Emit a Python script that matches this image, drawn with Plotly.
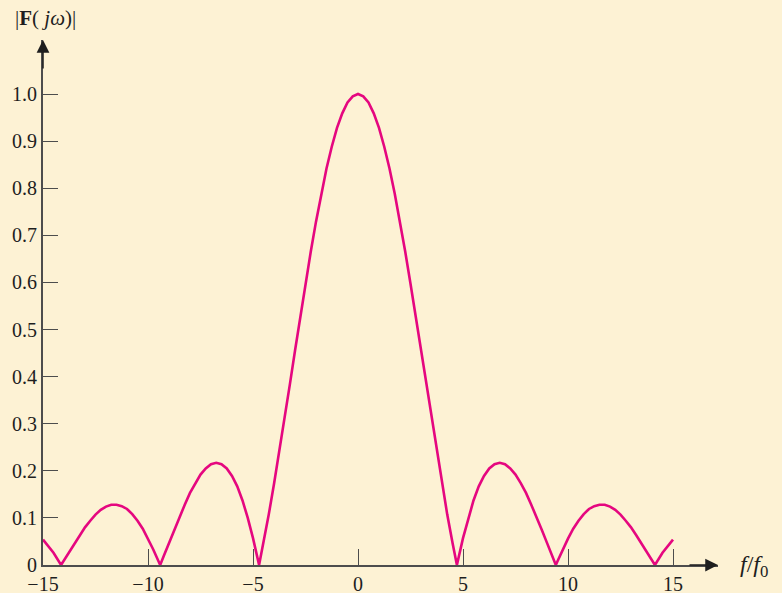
import plotly.graph_objects as go

# values (|F(jw)| vs f/f0), right half; left half is its mirror
f_pos = [0, 0.25, 0.5, 0.75, 1, 1.25, 1.5, 1.75, 2, 2.25, 2.5, 2.75, 3, 3.25, 3.5, 3.75, 4, 4.25,
         4.5, 4.71, 5, 5.25, 5.5, 5.75, 6, 6.25, 6.5, 6.75, 7, 7.25, 7.5, 7.75, 8, 8.25, 8.5, 8.75,
         9, 9.25, 9.42, 9.5, 9.75, 10, 10.25, 10.5, 10.75, 11, 11.25, 11.5, 11.75, 12, 12.25, 12.5,
         12.75, 13, 13.25, 13.5, 13.75, 14, 14.14, 14.5, 14.75, 15]
mag_pos = [1.0, 0.995, 0.982, 0.959, 0.928, 0.888, 0.842, 0.788, 0.729, 0.665, 0.597, 0.527,
           0.455, 0.382, 0.310, 0.239, 0.172, 0.107,
           0.047, 0.0, 0.057, 0.100, 0.137, 0.167, 0.189, 0.205, 0.214, 0.217, 0.214, 0.205,
           0.192, 0.174, 0.153, 0.128, 0.103, 0.075,
           0.047, 0.019, 0.0, 0.008, 0.033, 0.056, 0.077, 0.094, 0.108, 0.119, 0.125, 0.128,
           0.128, 0.124, 0.117, 0.107,
           0.094, 0.080, 0.063, 0.046, 0.028, 0.010, 0.0, 0.026, 0.040, 0.054]

f_vals = [-v for v in reversed(f_pos[1:])] + f_pos
mag_vals = list(reversed(mag_pos[1:])) + mag_pos

x_tickvals = [-15, -10, -5, 0, 5, 10, 15]
x_ticktext = ["\u221215", "\u221210", "\u22125", "0", "5", "10", "15"]
y_tickvals = [0, 0.1, 0.2, 0.3, 0.4, 0.5, 0.6, 0.7, 0.8, 0.9, 1.0]
y_ticktext = ["0", "0.1", "0.2", "0.3", "0.4", "0.5", "0.6", "0.7", "0.8", "0.9", "1.0"]

BG = "#FDF2D4"
AX = "#4d4d4d"
LINE = "#E5077F"
FONT = "Liberation Serif"
TXT = "#1e1e1e"

L, R, T, B = 43, 718, 40, 565  # plot area in pixels
W, H = 782, 593
X_MAX = -15 + (R - L) / 21.0
Y_MAX = (B - T) / 471.0

fig = go.Figure()
fig.add_trace(go.Scatter(x=f_vals, y=mag_vals, mode="lines",
                         line=dict(color=LINE, width=2.6),
                         hoverinfo="skip"))

fig.update_layout(
    width=W, height=H,
    paper_bgcolor=BG, plot_bgcolor=BG,
    margin=dict(l=L, r=W - R, t=T, b=H - B, autoexpand=False),
    showlegend=False,
    font=dict(family=FONT, size=20, color=TXT),
    xaxis=dict(range=[-15, X_MAX], showgrid=False, zeroline=False, automargin=False,
               showline=True, linecolor=AX, linewidth=2,
               ticks="inside", ticklen=16, tickwidth=1.3, tickcolor=AX,
               tickvals=x_tickvals, ticktext=x_ticktext,
               tickfont=dict(family=FONT, size=20, color=TXT)),
    yaxis=dict(range=[0, Y_MAX], showgrid=False, zeroline=False, automargin=False,
               showline=True, linecolor=AX, linewidth=2,
               ticks="inside", ticklen=15, tickwidth=1.3, tickcolor=AX,
               tickvals=y_tickvals, ticktext=y_ticktext,
               tickfont=dict(family=FONT, size=20, color=TXT)),
)

# arrowheads
fig.add_annotation(x=X_MAX, y=0, xref="x", yref="y", ax=-30, ay=0,
                   showarrow=True, arrowhead=2, arrowsize=1.7, arrowwidth=1.5,
                   arrowcolor=TXT, text="")
fig.add_annotation(x=-15, y=Y_MAX, xref="x", yref="y", ax=0, ay=30,
                   showarrow=True, arrowhead=2, arrowsize=1.7, arrowwidth=1.5,
                   arrowcolor=TXT, text="")


def px_to_paper(px, py):
    return (px - L) / (R - L), (B - py) / (B - T)


tx, ty = px_to_paper(45, 18)
fig.add_annotation(x=tx, y=ty, xref="paper", yref="paper", xanchor="center", yanchor="middle",
                   text="|<b>F</b>( <i>j\u03c9</i>)|",
                   showarrow=False, font=dict(family=FONT, size=21, color=TXT))
lx, ly = px_to_paper(754, 566)
fig.add_annotation(x=lx, y=ly, xref="paper", yref="paper", xanchor="center", yanchor="middle",
                   text="<i>f</i>/<i>f</i><sub>0</sub>",
                   showarrow=False, font=dict(family=FONT, size=24, color=TXT))

fig.write_html("out.html",
               config={"displayModeBar": False},
               post_script="document.body.style.margin='0';"
                           "document.body.style.background='" + BG + "';"
                           "document.body.style.overflow='hidden';")
